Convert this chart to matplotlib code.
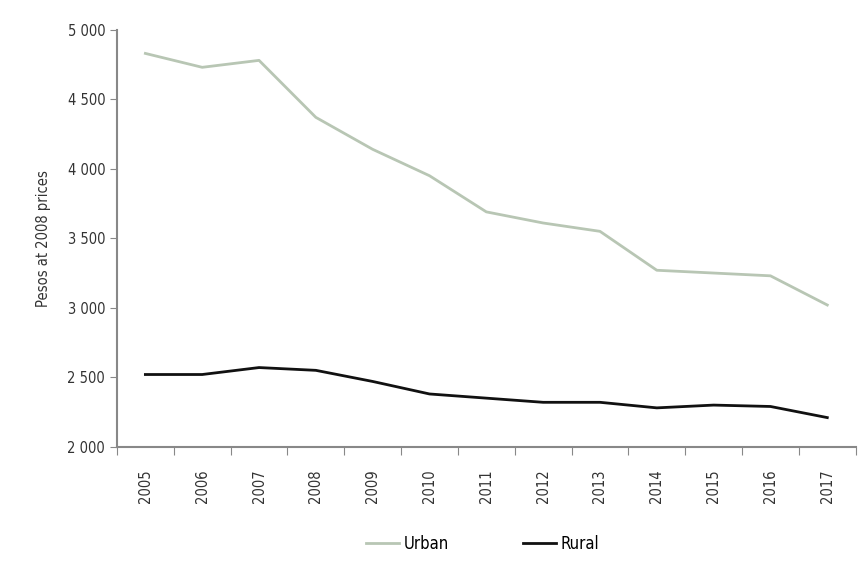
import numpy as np
import matplotlib.pyplot as plt
from matplotlib.ticker import FuncFormatter

years = ['2005', '2006', '2007', '2008', '2009', '2010', '2011',
         '2012', '2013', '2014', '2015', '2016', '2017']
urban = [4830, 4730, 4780, 4370, 4140, 3950, 3690, 3610, 3550, 3270, 3250, 3230, 3020]
rural = [2520, 2520, 2570, 2550, 2470, 2380, 2350, 2320, 2320, 2280, 2300, 2290, 2210]

plt.rcParams['font.family'] = ['DejaVu Sans']
plt.rcParams['font.stretch'] = 'condensed'

fig = plt.figure(figsize=(8.6, 5.62), dpi=100)
ax = fig.add_axes([0.136, 0.205, 0.859, 0.742])

x = np.arange(len(years))
ax.plot(x, urban, color='#b8c6b4', lw=2, label='Urban')
ax.plot(x, rural, color='#111111', lw=2, label='Rural')

ax.set_ylim(2000, 5000)
ax.set_xlim(-0.5, len(years) - 0.5)
ax.set_yticks(np.arange(2000, 5001, 500))
ax.yaxis.set_major_formatter(FuncFormatter(lambda v, p: f"{int(v):,}".replace(',', ' ')))
ax.set_xticks(np.arange(-0.5, len(years), 1))
ax.set_xticklabels([])
ax.set_xticks(x, minor=True)
ax.set_xticklabels(years, minor=True, rotation=90)
ax.tick_params(axis='x', which='minor', length=0, pad=16, labelsize=10.5, colors='#333333')
ax.tick_params(axis='x', which='major', length=6, color='#888888')
ax.tick_params(axis='y', length=5, color='#888888', labelsize=10.5, colors='#333333')

for s in ['top', 'right']:
    ax.spines[s].set_visible(False)
for s in ['left', 'bottom']:
    ax.spines[s].set_color('#888888')
    ax.spines[s].set_linewidth(1.5)

ax.set_ylabel('Pesos at 2008 prices', fontsize=10.5, color='#333333', labelpad=12)

ax.legend(loc='upper center', bbox_to_anchor=(0.495, -0.175), ncol=2, frameon=False,
          fontsize=12, handlelength=2.0, columnspacing=4.4, handletextpad=0.3)

fig.savefig('out.png', dpi=100)
